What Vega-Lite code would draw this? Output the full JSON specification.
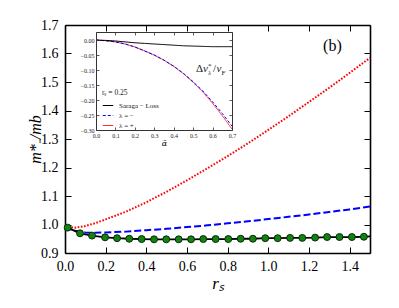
{
  "$schema": "https://vega.github.io/schema/vega-lite/v6.json",
  "width": 305,
  "height": 228,
  "autosize": "none",
  "padding": {"left": 65, "top": 25, "right": 29, "bottom": 55},
  "background": "white",
  "config": {
    "view": {"stroke": null},
    "axis": {
      "grid": false,
      "labelFont": "Liberation Serif",
      "labelFontSize": 14,
      "labelColor": "black",
      "titleFont": "Liberation Serif",
      "titleFontWeight": "normal",
      "titleColor": "black",
      "domainColor": "black",
      "domainWidth": 1.6,
      "tickColor": "black",
      "tickWidth": 1,
      "labelFlush": false,
      "labelOverlap": false
    }
  },
  "datasets": {
    "red": [
      {"rs": 0, "m": 0.993}, {"rs": 0.05, "m": 0.989}, {"rs": 0.1, "m": 0.995}, {"rs": 0.15, "m": 1.005},
      {"rs": 0.2, "m": 1.018}, {"rs": 0.3, "m": 1.045}, {"rs": 0.4, "m": 1.078}, {"rs": 0.5, "m": 1.115},
      {"rs": 0.6, "m": 1.155}, {"rs": 0.7, "m": 1.197}, {"rs": 0.8, "m": 1.24}, {"rs": 0.9, "m": 1.285},
      {"rs": 1.0, "m": 1.332}, {"rs": 1.1, "m": 1.38}, {"rs": 1.2, "m": 1.43}, {"rs": 1.3, "m": 1.48},
      {"rs": 1.4, "m": 1.532}, {"rs": 1.5, "m": 1.585}
    ],
    "blue": [
      {"rs": 0, "m": 0.99}, {"rs": 0.05, "m": 0.978}, {"rs": 0.1, "m": 0.972}, {"rs": 0.15, "m": 0.971},
      {"rs": 0.2, "m": 0.972}, {"rs": 0.3, "m": 0.975}, {"rs": 0.4, "m": 0.98}, {"rs": 0.5, "m": 0.985},
      {"rs": 0.6, "m": 0.991}, {"rs": 0.7, "m": 0.997}, {"rs": 0.8, "m": 1.004}, {"rs": 0.9, "m": 1.011},
      {"rs": 1.0, "m": 1.019}, {"rs": 1.1, "m": 1.027}, {"rs": 1.2, "m": 1.035}, {"rs": 1.3, "m": 1.044},
      {"rs": 1.4, "m": 1.053}, {"rs": 1.5, "m": 1.063}
    ],
    "sl": [
      {"rs": 0, "m": 0.995}, {"rs": 0.013, "m": 0.989}, {"rs": 0.074, "m": 0.969}, {"rs": 0.133, "m": 0.961},
      {"rs": 0.197, "m": 0.955}, {"rs": 0.256, "m": 0.952}, {"rs": 0.316, "m": 0.950}, {"rs": 0.377, "m": 0.949},
      {"rs": 0.438, "m": 0.948}, {"rs": 0.498, "m": 0.948}, {"rs": 0.559, "m": 0.948}, {"rs": 0.62, "m": 0.948},
      {"rs": 0.68, "m": 0.949}, {"rs": 0.741, "m": 0.949}, {"rs": 0.803, "m": 0.949}, {"rs": 0.864, "m": 0.950},
      {"rs": 0.924, "m": 0.950}, {"rs": 0.985, "m": 0.952}, {"rs": 1.046, "m": 0.952}, {"rs": 1.107, "m": 0.953},
      {"rs": 1.167, "m": 0.953}, {"rs": 1.23, "m": 0.954}, {"rs": 1.289, "m": 0.956}, {"rs": 1.35, "m": 0.956},
      {"rs": 1.411, "m": 0.956}, {"rs": 1.47, "m": 0.957}, {"rs": 1.5, "m": 0.958}
    ],
    "dots": [
      {"rs": 0.013, "m": 0.989}, {"rs": 0.074, "m": 0.969}, {"rs": 0.133, "m": 0.961},
      {"rs": 0.197, "m": 0.955}, {"rs": 0.256, "m": 0.952}, {"rs": 0.316, "m": 0.950}, {"rs": 0.377, "m": 0.949},
      {"rs": 0.438, "m": 0.948}, {"rs": 0.498, "m": 0.948}, {"rs": 0.559, "m": 0.948}, {"rs": 0.62, "m": 0.948},
      {"rs": 0.68, "m": 0.949}, {"rs": 0.741, "m": 0.949}, {"rs": 0.803, "m": 0.949}, {"rs": 0.864, "m": 0.950},
      {"rs": 0.924, "m": 0.950}, {"rs": 0.985, "m": 0.952}, {"rs": 1.046, "m": 0.952}, {"rs": 1.107, "m": 0.953},
      {"rs": 1.167, "m": 0.953}, {"rs": 1.23, "m": 0.954}, {"rs": 1.289, "m": 0.956}, {"rs": 1.35, "m": 0.956},
      {"rs": 1.411, "m": 0.956}, {"rs": 1.47, "m": 0.957}
    ],
    "inset": [
      {"a": 0, "v": 0, "s": "λ = +"}, {"a": 0.05, "v": -0.002, "s": "λ = +"}, {"a": 0.1, "v": -0.006, "s": "λ = +"},
      {"a": 0.15, "v": -0.013, "s": "λ = +"}, {"a": 0.2, "v": -0.023, "s": "λ = +"}, {"a": 0.25, "v": -0.036, "s": "λ = +"},
      {"a": 0.3, "v": -0.05, "s": "λ = +"}, {"a": 0.35, "v": -0.067, "s": "λ = +"}, {"a": 0.4, "v": -0.088, "s": "λ = +"},
      {"a": 0.45, "v": -0.112, "s": "λ = +"}, {"a": 0.5, "v": -0.141, "s": "λ = +"}, {"a": 0.55, "v": -0.173, "s": "λ = +"},
      {"a": 0.6, "v": -0.211, "s": "λ = +"}, {"a": 0.65, "v": -0.252, "s": "λ = +"}, {"a": 0.7, "v": -0.297, "s": "λ = +"},
      {"a": 0, "v": 0, "s": "λ = −"}, {"a": 0.05, "v": -0.002, "s": "λ = −"}, {"a": 0.1, "v": -0.006, "s": "λ = −"},
      {"a": 0.15, "v": -0.013, "s": "λ = −"}, {"a": 0.2, "v": -0.023, "s": "λ = −"}, {"a": 0.25, "v": -0.036, "s": "λ = −"},
      {"a": 0.3, "v": -0.05, "s": "λ = −"}, {"a": 0.35, "v": -0.067, "s": "λ = −"}, {"a": 0.4, "v": -0.087, "s": "λ = −"},
      {"a": 0.45, "v": -0.111, "s": "λ = −"}, {"a": 0.5, "v": -0.139, "s": "λ = −"}, {"a": 0.55, "v": -0.17, "s": "λ = −"},
      {"a": 0.6, "v": -0.206, "s": "λ = −"}, {"a": 0.65, "v": -0.245, "s": "λ = −"}, {"a": 0.7, "v": -0.287, "s": "λ = −"},
      {"a": 0, "v": 0, "s": "Saraga − Loss"}, {"a": 0.05, "v": -0.001, "s": "Saraga − Loss"}, {"a": 0.1, "v": -0.003, "s": "Saraga − Loss"},
      {"a": 0.15, "v": -0.006, "s": "Saraga − Loss"}, {"a": 0.2, "v": -0.009, "s": "Saraga − Loss"}, {"a": 0.25, "v": -0.011, "s": "Saraga − Loss"},
      {"a": 0.3, "v": -0.013, "s": "Saraga − Loss"}, {"a": 0.35, "v": -0.015, "s": "Saraga − Loss"}, {"a": 0.4, "v": -0.017, "s": "Saraga − Loss"},
      {"a": 0.45, "v": -0.019, "s": "Saraga − Loss"}, {"a": 0.5, "v": -0.02, "s": "Saraga − Loss"}, {"a": 0.55, "v": -0.021, "s": "Saraga − Loss"},
      {"a": 0.6, "v": -0.022, "s": "Saraga − Loss"}, {"a": 0.65, "v": -0.022, "s": "Saraga − Loss"}, {"a": 0.7, "v": -0.022, "s": "Saraga − Loss"}
    ]
  },
  "layer": [
    {
      "layer": [
        {
          "data": {"name": "red"},
          "mark": {"type": "line", "color": "red", "strokeWidth": 2, "strokeDash": [1.6, 1.6]},
          "encoding": {
            "x": {"field": "rs", "type": "quantitative", "scale": {"domain": [0, 1.5], "nice": false, "zero": false},
              "axis": {"orient": "bottom", "values": [0, 0.2, 0.4, 0.6, 0.8, 1.0, 1.2, 1.4], "format": ".1f", "tickSize": -6, "labelPadding": 12, "labelFont": "Liberation Serif", "labelFontSize": 14, "title": "rₛ", "titleFont": "Liberation Serif", "titleFontStyle": "italic", "titleFontSize": 17, "titlePadding": 2}},
            "y": {"field": "m", "type": "quantitative", "scale": {"domain": [0.9, 1.7], "nice": false, "zero": false},
              "axis": {"orient": "left", "values": [0.9, 1.0, 1.1, 1.2, 1.3, 1.4, 1.5, 1.6, 1.7], "format": ".1f", "tickSize": -6, "labelPadding": 13, "labelFont": "Liberation Serif", "labelFontSize": 14, "title": "m*₋/mb", "titleFont": "Liberation Serif", "titleFontStyle": "italic", "titleFontSize": 16, "titlePadding": -3}}
          }
        },
        {
          "data": {"name": "blue"},
          "mark": {"type": "line", "color": "blue", "strokeWidth": 2, "strokeDash": [7, 3]},
          "encoding": {
            "x": {"field": "rs", "type": "quantitative", "axis": null},
            "y": {"field": "m", "type": "quantitative", "axis": null}
          }
        },
        {
          "data": {"name": "sl"},
          "mark": {"type": "line", "color": "black", "strokeWidth": 1.8},
          "encoding": {
            "x": {"field": "rs", "type": "quantitative", "axis": null},
            "y": {"field": "m", "type": "quantitative", "axis": null}
          }
        },
        {
          "data": {"name": "dots"},
          "mark": {"type": "point", "shape": "circle", "filled": true, "fill": "#118311", "stroke": "#0a2a0a", "strokeWidth": 1, "opacity": 1, "size": 48},
          "encoding": {
            "x": {"field": "rs", "type": "quantitative", "axis": null},
            "y": {"field": "m", "type": "quantitative", "axis": null}
          }
        },
        {
          "data": {"name": "dots"},
          "mark": {"type": "point", "opacity": 0},
          "encoding": {
            "x": {"field": "rs", "type": "quantitative",
              "axis": {"orient": "top", "values": [0, 0.2, 0.4, 0.6, 0.8, 1.0, 1.2, 1.4], "tickSize": -6, "labels": false, "title": null}},
            "y": {"field": "m", "type": "quantitative",
              "axis": {"orient": "right", "values": [0.9, 1.0, 1.1, 1.2, 1.3, 1.4, 1.5, 1.6, 1.7], "tickSize": -6, "labels": false, "title": null}}
          }
        },
        {
          "data": {"values": [{"label": "(b)", "rs": 1.315, "m": 1.625}]},
          "mark": {"type": "text", "font": "Liberation Serif", "fontSize": 16, "align": "center", "baseline": "middle", "color": "black"},
          "encoding": {
            "x": {"field": "rs", "type": "quantitative", "axis": null},
            "y": {"field": "m", "type": "quantitative", "axis": null},
            "text": {"field": "label"}
          }
        }
      ],
      "resolve": {"axis": {"x": "independent", "y": "independent"}}
    },
    {
      "layer": [
        {
          "data": {"values": [{"a0": 0, "a1": 0.7, "v0": -0.3, "v1": 0.027}]},
          "mark": {"type": "rect", "fill": "white"},
          "encoding": {
            "x": {"field": "a0", "type": "quantitative", "scale": {"domain": [0, 0.7], "range": [31, 167], "nice": false, "zero": false}, "axis": null},
            "x2": {"field": "a1"},
            "y": {"field": "v0", "type": "quantitative", "scale": {"domain": [-0.3, 0.027], "range": [105, 7], "nice": false, "zero": false}, "axis": null},
            "y2": {"field": "v1"}
          }
        },
        {
          "data": {"name": "inset"},
          "mark": {"type": "line", "strokeWidth": 1},
          "encoding": {
            "x": {"field": "a", "type": "quantitative",
              "axis": {"orient": "bottom", "offset": -123, "zindex": 1, "values": [0, 0.1, 0.2, 0.3, 0.4, 0.5, 0.6, 0.7], "format": ".1f", "tickSize": -3, "labelPadding": 5, "labelFont": "Liberation Serif", "labelFontSize": 6, "labelColor": "#222", "domainWidth": 1, "domainColor": "#333", "tickWidth": 0.8, "tickColor": "#333", "title": "ᾱ", "titleFont": "DejaVu Serif", "titleFontStyle": "italic", "titleFontSize": 8, "titlePadding": 1}},
            "y": {"field": "v", "type": "quantitative",
              "axis": {"orient": "left", "offset": -31, "zindex": 1, "values": [0, -0.05, -0.1, -0.15, -0.2, -0.25, -0.3], "format": ".2f", "tickSize": -3, "labelPadding": 5, "labelFont": "Liberation Serif", "labelFontSize": 6, "labelColor": "#222", "domainWidth": 1, "domainColor": "#333", "tickWidth": 0.8, "tickColor": "#333", "title": null}},
            "color": {"field": "s", "type": "nominal",
              "scale": {"domain": ["Saraga − Loss", "λ = −", "λ = +"], "range": ["black", "blue", "#ff3030"]},
              "legend": {"orient": "none", "legendX": 37, "legendY": 64, "title": "rₛ = 0.25", "titleFont": "Liberation Serif", "titleFontSize": 7.5, "titleFontWeight": "normal", "titleColor": "#222", "titlePadding": 3, "labelFont": "Liberation Serif", "labelFontSize": 7, "labelColor": "#222", "symbolType": "stroke", "symbolSize": 110, "symbolStrokeWidth": 1.2, "rowPadding": 1, "labelOffset": 5}},
            "strokeDash": {"field": "s", "type": "nominal",
              "scale": {"domain": ["Saraga − Loss", "λ = −", "λ = +"], "range": [[1, 0], [3, 2], [1, 0]]}},
            "order": {"field": "a"}
          }
        },
        {
          "data": {"name": "inset"},
          "mark": {"type": "point", "opacity": 0},
          "encoding": {
            "x": {"field": "a", "type": "quantitative",
              "axis": {"orient": "top", "offset": -7, "zindex": 1, "values": [0, 0.1, 0.2, 0.3, 0.4, 0.5, 0.6, 0.7], "tickSize": -3, "labels": false, "domainWidth": 1, "domainColor": "#333", "tickWidth": 0.8, "tickColor": "#333", "title": null}},
            "y": {"field": "v", "type": "quantitative",
              "axis": {"orient": "right", "offset": -138, "zindex": 1, "values": [0, -0.05, -0.1, -0.15, -0.2, -0.25, -0.3], "tickSize": -3, "labels": false, "domainWidth": 1, "domainColor": "#333", "tickWidth": 0.8, "tickColor": "#333", "title": null}}
          }
        },
        {
          "data": {"values": [{"a": 0.515, "v": -0.108}]},
          "layer": [
            {"mark": {"type": "text", "text": "Δ", "align": "left", "baseline": "alphabetic", "font": "Liberation Serif", "fontSize": 11, "color": "#222"}},
            {"mark": {"type": "text", "text": "v", "dx": 7, "align": "left", "baseline": "alphabetic", "font": "Liberation Serif", "fontStyle": "italic", "fontSize": 11, "color": "#222"}},
            {"mark": {"type": "text", "text": "*", "dx": 12, "dy": -4, "align": "left", "baseline": "alphabetic", "font": "Liberation Serif", "fontSize": 7, "color": "#222"}},
            {"mark": {"type": "text", "text": "λ", "dx": 12, "dy": 2.5, "align": "left", "baseline": "alphabetic", "font": "Liberation Serif", "fontStyle": "italic", "fontSize": 7, "color": "#222"}},
            {"mark": {"type": "text", "text": "/", "dx": 17, "align": "left", "baseline": "alphabetic", "font": "Liberation Serif", "fontSize": 11, "color": "#222"}},
            {"mark": {"type": "text", "text": "v", "dx": 20.5, "align": "left", "baseline": "alphabetic", "font": "Liberation Serif", "fontStyle": "italic", "fontSize": 11, "color": "#222"}},
            {"mark": {"type": "text", "text": "F", "dx": 25.5, "dy": 2.5, "align": "left", "baseline": "alphabetic", "font": "Liberation Serif", "fontSize": 7, "color": "#222"}}
          ],
          "encoding": {
            "x": {"field": "a", "type": "quantitative", "axis": null},
            "y": {"field": "v", "type": "quantitative", "axis": null}
          }
        }
      ],
      "resolve": {"axis": {"x": "independent", "y": "independent"}}
    }
  ],
  "resolve": {"scale": {"x": "independent", "y": "independent"}}
}
